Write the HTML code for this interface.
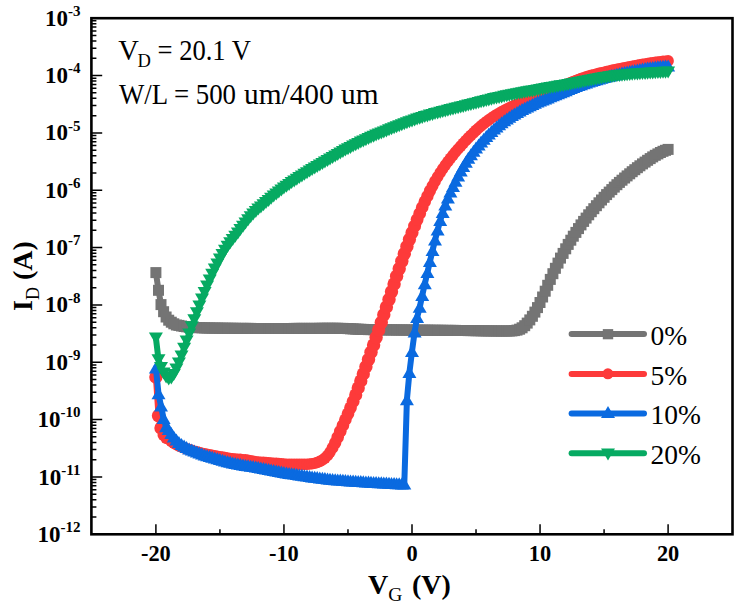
<!DOCTYPE html>
<html><head><meta charset="utf-8"><style>html,body{margin:0;padding:0;background:#fff;width:744px;height:612px;overflow:hidden}svg{display:block}</style></head>
<body><svg width="744" height="612" viewBox="0 0 744 612" font-family="'Liberation Serif', serif">
<rect width="744" height="612" fill="#fff"/>
<g fill="#747474" stroke="none"><polyline points="155.9,272.6 158.5,290.3 161.0,304.6 163.6,311.7 166.1,317.0 168.7,320.2 171.3,322.2 173.8,323.8 176.4,325.0 178.9,325.4 181.5,326.0 184.1,326.5 186.6,326.8 189.2,327.1 191.8,327.3 194.3,327.5 196.9,327.6 199.4,327.7 202.0,327.8 204.6,327.9 207.1,328.0 209.7,328.0 212.2,328.1 214.8,328.1 217.4,328.1 219.9,328.2 222.5,328.2 225.0,328.2 227.6,328.3 230.2,328.3 232.7,328.3 235.3,328.3 237.9,328.4 240.4,328.4 243.0,328.4 245.5,328.4 248.1,328.4 250.7,328.4 253.2,328.5 255.8,328.5 258.3,328.5 260.9,328.5 263.5,328.5 266.0,328.5 268.6,328.5 271.1,328.5 273.7,328.5 276.3,328.5 278.8,328.5 281.4,328.5 283.9,328.5 286.5,328.5 289.1,328.5 291.6,328.5 294.2,328.4 296.8,328.4 299.3,328.4 301.9,328.4 304.4,328.4 307.0,328.4 309.6,328.4 312.1,328.4 314.7,328.4 317.2,328.4 319.8,328.3 322.4,328.3 324.9,328.3 327.5,328.3 330.0,328.3 332.6,328.3 335.2,328.3 337.7,328.3 340.3,328.4 342.9,328.4 345.4,328.5 348.0,328.6 350.5,328.8 353.1,328.9 355.7,329.1 358.2,329.2 360.8,329.3 363.3,329.4 365.9,329.5 368.5,329.6 371.0,329.6 373.6,329.7 376.1,329.7 378.7,329.7 381.3,329.8 383.8,329.8 386.4,329.8 389.0,329.9 391.5,329.9 394.1,329.9 396.6,330.0 399.2,330.0 401.8,330.0 404.3,330.0 406.9,330.1 409.4,330.1 412.0,330.1 414.6,330.1 417.1,330.1 419.7,330.2 422.2,330.2 424.8,330.2 427.4,330.2 429.9,330.2 432.5,330.3 435.0,330.3 437.6,330.3 440.2,330.3 442.7,330.3 445.3,330.4 447.9,330.4 450.4,330.4 453.0,330.4 455.5,330.4 458.1,330.5 460.7,330.5 463.2,330.5 465.8,330.5 468.3,330.6 470.9,330.6 473.5,330.6 476.0,330.7 478.6,330.7 481.1,330.8 483.7,330.8 486.3,330.9 488.8,330.9 491.4,330.9 494.0,331.0 496.5,331.0 499.1,331.0 501.6,331.0 504.2,331.0 506.8,331.0 509.3,331.0 511.9,330.9 514.4,330.6 517.0,330.1 519.6,329.2 522.1,327.8 524.7,325.7 527.2,323.1 529.8,319.9 532.4,316.3 534.9,312.1 537.5,307.6 540.0,302.5 542.6,297.0 545.2,291.2 547.7,285.3 550.3,279.4 552.9,273.7 555.4,268.3 558.0,263.1 560.5,258.1 563.1,253.4 565.7,248.8 568.2,244.4 570.8,240.2 573.3,236.2 575.9,232.4 578.5,228.6 581.0,224.9 583.6,221.4 586.1,218.1 588.7,214.8 591.3,211.7 593.8,208.7 596.4,205.7 599.0,202.8 601.5,200.0 604.1,197.3 606.6,194.6 609.2,192.1 611.8,189.6 614.3,187.1 616.9,184.7 619.4,182.4 622.0,180.2 624.6,178.0 627.1,175.9 629.7,173.8 632.2,171.7 634.8,169.7 637.4,167.7 639.9,165.8 642.5,163.9 645.1,162.1 647.6,160.3 650.2,158.6 652.7,156.9 655.3,155.3 657.9,153.9 660.4,152.5 663.0,151.3 665.5,150.3 668.1,149.4" fill="none" stroke="#747474" stroke-width="6" stroke-linejoin="round" stroke-linecap="round"/><rect x="150.4" y="267.1" width="11" height="11"/><rect x="153.0" y="284.8" width="11" height="11"/><rect x="155.5" y="299.1" width="11" height="11"/><rect x="158.1" y="306.2" width="11" height="11"/><rect x="160.6" y="311.5" width="11" height="11"/><rect x="163.2" y="314.7" width="11" height="11"/><rect x="165.8" y="316.7" width="11" height="11"/><rect x="168.3" y="318.3" width="11" height="11"/><rect x="170.9" y="319.5" width="11" height="11"/><rect x="173.4" y="319.9" width="11" height="11"/><rect x="176.0" y="320.5" width="11" height="11"/><rect x="178.6" y="321.0" width="11" height="11"/><rect x="181.1" y="321.3" width="11" height="11"/><rect x="183.7" y="321.6" width="11" height="11"/><rect x="186.3" y="321.8" width="11" height="11"/><rect x="188.8" y="322.0" width="11" height="11"/><rect x="191.4" y="322.1" width="11" height="11"/><rect x="193.9" y="322.2" width="11" height="11"/><rect x="196.5" y="322.3" width="11" height="11"/><rect x="199.1" y="322.4" width="11" height="11"/><rect x="201.6" y="322.5" width="11" height="11"/><rect x="204.2" y="322.5" width="11" height="11"/><rect x="206.7" y="322.6" width="11" height="11"/><rect x="209.3" y="322.6" width="11" height="11"/><rect x="211.9" y="322.6" width="11" height="11"/><rect x="214.4" y="322.7" width="11" height="11"/><rect x="217.0" y="322.7" width="11" height="11"/><rect x="219.5" y="322.7" width="11" height="11"/><rect x="222.1" y="322.8" width="11" height="11"/><rect x="224.7" y="322.8" width="11" height="11"/><rect x="227.2" y="322.8" width="11" height="11"/><rect x="229.8" y="322.8" width="11" height="11"/><rect x="232.4" y="322.9" width="11" height="11"/><rect x="234.9" y="322.9" width="11" height="11"/><rect x="237.5" y="322.9" width="11" height="11"/><rect x="240.0" y="322.9" width="11" height="11"/><rect x="242.6" y="322.9" width="11" height="11"/><rect x="245.2" y="322.9" width="11" height="11"/><rect x="247.7" y="323.0" width="11" height="11"/><rect x="250.3" y="323.0" width="11" height="11"/><rect x="252.8" y="323.0" width="11" height="11"/><rect x="255.4" y="323.0" width="11" height="11"/><rect x="258.0" y="323.0" width="11" height="11"/><rect x="260.5" y="323.0" width="11" height="11"/><rect x="263.1" y="323.0" width="11" height="11"/><rect x="265.6" y="323.0" width="11" height="11"/><rect x="268.2" y="323.0" width="11" height="11"/><rect x="270.8" y="323.0" width="11" height="11"/><rect x="273.3" y="323.0" width="11" height="11"/><rect x="275.9" y="323.0" width="11" height="11"/><rect x="278.4" y="323.0" width="11" height="11"/><rect x="281.0" y="323.0" width="11" height="11"/><rect x="283.6" y="323.0" width="11" height="11"/><rect x="286.1" y="323.0" width="11" height="11"/><rect x="288.7" y="322.9" width="11" height="11"/><rect x="291.3" y="322.9" width="11" height="11"/><rect x="293.8" y="322.9" width="11" height="11"/><rect x="296.4" y="322.9" width="11" height="11"/><rect x="298.9" y="322.9" width="11" height="11"/><rect x="301.5" y="322.9" width="11" height="11"/><rect x="304.1" y="322.9" width="11" height="11"/><rect x="306.6" y="322.9" width="11" height="11"/><rect x="309.2" y="322.9" width="11" height="11"/><rect x="311.7" y="322.9" width="11" height="11"/><rect x="314.3" y="322.8" width="11" height="11"/><rect x="316.9" y="322.8" width="11" height="11"/><rect x="319.4" y="322.8" width="11" height="11"/><rect x="322.0" y="322.8" width="11" height="11"/><rect x="324.5" y="322.8" width="11" height="11"/><rect x="327.1" y="322.8" width="11" height="11"/><rect x="329.7" y="322.8" width="11" height="11"/><rect x="332.2" y="322.8" width="11" height="11"/><rect x="334.8" y="322.9" width="11" height="11"/><rect x="337.4" y="322.9" width="11" height="11"/><rect x="339.9" y="323.0" width="11" height="11"/><rect x="342.5" y="323.1" width="11" height="11"/><rect x="345.0" y="323.3" width="11" height="11"/><rect x="347.6" y="323.4" width="11" height="11"/><rect x="350.2" y="323.6" width="11" height="11"/><rect x="352.7" y="323.7" width="11" height="11"/><rect x="355.3" y="323.8" width="11" height="11"/><rect x="357.8" y="323.9" width="11" height="11"/><rect x="360.4" y="324.0" width="11" height="11"/><rect x="363.0" y="324.1" width="11" height="11"/><rect x="365.5" y="324.1" width="11" height="11"/><rect x="368.1" y="324.2" width="11" height="11"/><rect x="370.6" y="324.2" width="11" height="11"/><rect x="373.2" y="324.2" width="11" height="11"/><rect x="375.8" y="324.3" width="11" height="11"/><rect x="378.3" y="324.3" width="11" height="11"/><rect x="380.9" y="324.3" width="11" height="11"/><rect x="383.5" y="324.4" width="11" height="11"/><rect x="386.0" y="324.4" width="11" height="11"/><rect x="388.6" y="324.4" width="11" height="11"/><rect x="391.1" y="324.5" width="11" height="11"/><rect x="393.7" y="324.5" width="11" height="11"/><rect x="396.3" y="324.5" width="11" height="11"/><rect x="398.8" y="324.5" width="11" height="11"/><rect x="401.4" y="324.6" width="11" height="11"/><rect x="403.9" y="324.6" width="11" height="11"/><rect x="406.5" y="324.6" width="11" height="11"/><rect x="409.1" y="324.6" width="11" height="11"/><rect x="411.6" y="324.6" width="11" height="11"/><rect x="414.2" y="324.7" width="11" height="11"/><rect x="416.7" y="324.7" width="11" height="11"/><rect x="419.3" y="324.7" width="11" height="11"/><rect x="421.9" y="324.7" width="11" height="11"/><rect x="424.4" y="324.7" width="11" height="11"/><rect x="427.0" y="324.8" width="11" height="11"/><rect x="429.5" y="324.8" width="11" height="11"/><rect x="432.1" y="324.8" width="11" height="11"/><rect x="434.7" y="324.8" width="11" height="11"/><rect x="437.2" y="324.8" width="11" height="11"/><rect x="439.8" y="324.9" width="11" height="11"/><rect x="442.4" y="324.9" width="11" height="11"/><rect x="444.9" y="324.9" width="11" height="11"/><rect x="447.5" y="324.9" width="11" height="11"/><rect x="450.0" y="324.9" width="11" height="11"/><rect x="452.6" y="325.0" width="11" height="11"/><rect x="455.2" y="325.0" width="11" height="11"/><rect x="457.7" y="325.0" width="11" height="11"/><rect x="460.3" y="325.0" width="11" height="11"/><rect x="462.8" y="325.1" width="11" height="11"/><rect x="465.4" y="325.1" width="11" height="11"/><rect x="468.0" y="325.1" width="11" height="11"/><rect x="470.5" y="325.2" width="11" height="11"/><rect x="473.1" y="325.2" width="11" height="11"/><rect x="475.6" y="325.3" width="11" height="11"/><rect x="478.2" y="325.3" width="11" height="11"/><rect x="480.8" y="325.4" width="11" height="11"/><rect x="483.3" y="325.4" width="11" height="11"/><rect x="485.9" y="325.4" width="11" height="11"/><rect x="488.5" y="325.5" width="11" height="11"/><rect x="491.0" y="325.5" width="11" height="11"/><rect x="493.6" y="325.5" width="11" height="11"/><rect x="496.1" y="325.5" width="11" height="11"/><rect x="498.7" y="325.5" width="11" height="11"/><rect x="501.3" y="325.5" width="11" height="11"/><rect x="503.8" y="325.5" width="11" height="11"/><rect x="506.4" y="325.4" width="11" height="11"/><rect x="508.9" y="325.1" width="11" height="11"/><rect x="511.5" y="324.6" width="11" height="11"/><rect x="514.1" y="323.7" width="11" height="11"/><rect x="516.6" y="322.3" width="11" height="11"/><rect x="519.2" y="320.2" width="11" height="11"/><rect x="521.7" y="317.6" width="11" height="11"/><rect x="524.3" y="314.4" width="11" height="11"/><rect x="526.9" y="310.8" width="11" height="11"/><rect x="529.4" y="306.6" width="11" height="11"/><rect x="532.0" y="302.1" width="11" height="11"/><rect x="534.5" y="297.0" width="11" height="11"/><rect x="537.1" y="291.5" width="11" height="11"/><rect x="539.7" y="285.7" width="11" height="11"/><rect x="542.2" y="279.8" width="11" height="11"/><rect x="544.8" y="273.9" width="11" height="11"/><rect x="547.4" y="268.2" width="11" height="11"/><rect x="549.9" y="262.8" width="11" height="11"/><rect x="552.5" y="257.6" width="11" height="11"/><rect x="555.0" y="252.6" width="11" height="11"/><rect x="557.6" y="247.9" width="11" height="11"/><rect x="560.2" y="243.3" width="11" height="11"/><rect x="562.7" y="238.9" width="11" height="11"/><rect x="565.3" y="234.7" width="11" height="11"/><rect x="567.8" y="230.7" width="11" height="11"/><rect x="570.4" y="226.9" width="11" height="11"/><rect x="573.0" y="223.1" width="11" height="11"/><rect x="575.5" y="219.4" width="11" height="11"/><rect x="578.1" y="215.9" width="11" height="11"/><rect x="580.6" y="212.6" width="11" height="11"/><rect x="583.2" y="209.3" width="11" height="11"/><rect x="585.8" y="206.2" width="11" height="11"/><rect x="588.3" y="203.2" width="11" height="11"/><rect x="590.9" y="200.2" width="11" height="11"/><rect x="593.5" y="197.3" width="11" height="11"/><rect x="596.0" y="194.5" width="11" height="11"/><rect x="598.6" y="191.8" width="11" height="11"/><rect x="601.1" y="189.1" width="11" height="11"/><rect x="603.7" y="186.6" width="11" height="11"/><rect x="606.3" y="184.1" width="11" height="11"/><rect x="608.8" y="181.6" width="11" height="11"/><rect x="611.4" y="179.2" width="11" height="11"/><rect x="613.9" y="176.9" width="11" height="11"/><rect x="616.5" y="174.7" width="11" height="11"/><rect x="619.1" y="172.5" width="11" height="11"/><rect x="621.6" y="170.4" width="11" height="11"/><rect x="624.2" y="168.3" width="11" height="11"/><rect x="626.7" y="166.2" width="11" height="11"/><rect x="629.3" y="164.2" width="11" height="11"/><rect x="631.9" y="162.2" width="11" height="11"/><rect x="634.4" y="160.3" width="11" height="11"/><rect x="637.0" y="158.4" width="11" height="11"/><rect x="639.6" y="156.6" width="11" height="11"/><rect x="642.1" y="154.8" width="11" height="11"/><rect x="644.7" y="153.1" width="11" height="11"/><rect x="647.2" y="151.4" width="11" height="11"/><rect x="649.8" y="149.8" width="11" height="11"/><rect x="652.4" y="148.4" width="11" height="11"/><rect x="654.9" y="147.0" width="11" height="11"/><rect x="657.5" y="145.8" width="11" height="11"/><rect x="660.0" y="144.8" width="11" height="11"/><rect x="662.6" y="143.9" width="11" height="11"/></g><g fill="#fd3a3a" stroke="none"><polyline points="155.9,377.0 158.5,415.7 161.0,428.1 163.6,434.9 166.1,438.1 168.7,439.1 171.3,441.3 173.8,443.2 176.4,444.7 178.9,445.9 181.5,446.9 184.1,447.9 186.6,448.8 189.2,449.6 191.8,450.4 194.3,451.2 196.9,451.9 199.4,452.6 202.0,453.2 204.6,453.9 207.1,454.4 209.7,454.9 212.2,455.4 214.8,455.8 217.4,456.2 219.9,456.7 222.5,457.1 225.0,457.6 227.6,458.0 230.2,458.5 232.7,458.8 235.3,459.1 237.9,459.3 240.4,459.4 243.0,459.7 245.5,459.9 248.1,460.3 250.7,460.8 253.2,461.3 255.8,461.7 258.3,462.0 260.9,462.2 263.5,462.4 266.0,462.6 268.6,462.8 271.1,463.0 273.7,463.2 276.3,463.4 278.8,463.6 281.4,463.8 283.9,464.0 286.5,464.2 289.1,464.3 291.6,464.4 294.2,464.4 296.8,464.4 299.3,464.4 301.9,464.4 304.4,464.3 307.0,464.2 309.6,464.0 312.1,463.7 314.7,463.2 317.2,462.5 319.8,461.4 322.4,460.0 324.9,458.1 327.5,455.5 330.0,452.1 332.6,447.8 335.2,442.8 337.7,437.2 340.3,431.3 342.9,425.4 345.4,419.6 348.0,413.7 350.5,407.7 353.1,401.5 355.7,394.9 358.2,387.9 360.8,380.9 363.3,373.9 365.9,366.8 368.5,359.6 371.0,352.3 373.6,344.9 376.1,337.5 378.7,330.0 381.3,322.4 383.8,314.8 386.4,307.1 389.0,299.4 391.5,291.7 394.1,284.0 396.6,276.3 399.2,268.7 401.8,261.2 404.3,253.8 406.9,246.6 409.4,239.5 412.0,232.7 414.6,226.0 417.1,219.6 419.7,213.4 422.2,207.4 424.8,201.6 427.4,196.2 429.9,190.9 432.5,186.0 435.0,181.3 437.6,176.9 440.2,172.7 442.7,168.8 445.3,165.1 447.9,161.6 450.4,158.3 453.0,155.1 455.5,152.0 458.1,149.0 460.7,146.1 463.2,143.3 465.8,140.5 468.3,137.9 470.9,135.3 473.5,132.8 476.0,130.4 478.6,128.0 481.1,125.8 483.7,123.7 486.3,121.7 488.8,119.8 491.4,118.0 494.0,116.3 496.5,114.7 499.1,113.2 501.6,111.7 504.2,110.4 506.8,109.0 509.3,107.8 511.9,106.5 514.4,105.4 517.0,104.2 519.6,103.1 522.1,102.0 524.7,101.0 527.2,100.0 529.8,98.9 532.4,97.9 534.9,96.9 537.5,95.9 540.0,94.9 542.6,93.9 545.2,93.0 547.7,92.0 550.3,90.9 552.9,89.9 555.4,88.9 558.0,87.9 560.5,86.8 563.1,85.7 565.7,84.7 568.2,83.6 570.8,82.6 573.3,81.5 575.9,80.5 578.5,79.5 581.0,78.6 583.6,77.7 586.1,76.9 588.7,76.1 591.3,75.4 593.8,74.7 596.4,74.0 599.0,73.4 601.5,72.8 604.1,72.2 606.6,71.6 609.2,71.0 611.8,70.4 614.3,69.9 616.9,69.3 619.4,68.8 622.0,68.3 624.6,67.7 627.1,67.2 629.7,66.7 632.2,66.2 634.8,65.8 637.4,65.3 639.9,64.8 642.5,64.4 645.1,64.0 647.6,63.5 650.2,63.1 652.7,62.7 655.3,62.4 657.9,62.0 660.4,61.7 663.0,61.4 665.5,61.2 668.1,60.9" fill="none" stroke="#fd3a3a" stroke-width="6" stroke-linejoin="round" stroke-linecap="round"/><circle cx="155.9" cy="377.0" r="6.70"/><circle cx="158.5" cy="415.7" r="6.70"/><circle cx="161.0" cy="428.1" r="6.70"/><circle cx="163.6" cy="434.9" r="6.07"/><circle cx="166.1" cy="438.1" r="5.80"/><circle cx="168.7" cy="439.1" r="5.80"/><circle cx="171.3" cy="441.3" r="5.80"/><circle cx="173.8" cy="443.2" r="5.80"/><circle cx="176.4" cy="444.7" r="5.80"/><circle cx="178.9" cy="445.9" r="5.80"/><circle cx="181.5" cy="446.9" r="5.80"/><circle cx="184.1" cy="447.9" r="5.80"/><circle cx="186.6" cy="448.8" r="5.80"/><circle cx="189.2" cy="449.6" r="5.80"/><circle cx="191.8" cy="450.4" r="5.80"/><circle cx="194.3" cy="451.2" r="5.80"/><circle cx="196.9" cy="451.9" r="5.80"/><circle cx="199.4" cy="452.6" r="5.80"/><circle cx="202.0" cy="453.2" r="5.80"/><circle cx="204.6" cy="453.9" r="5.80"/><circle cx="207.1" cy="454.4" r="5.80"/><circle cx="209.7" cy="454.9" r="5.80"/><circle cx="212.2" cy="455.4" r="5.80"/><circle cx="214.8" cy="455.8" r="5.80"/><circle cx="217.4" cy="456.2" r="5.80"/><circle cx="219.9" cy="456.7" r="5.80"/><circle cx="222.5" cy="457.1" r="5.80"/><circle cx="225.0" cy="457.6" r="5.80"/><circle cx="227.6" cy="458.0" r="5.80"/><circle cx="230.2" cy="458.5" r="5.80"/><circle cx="232.7" cy="458.8" r="5.80"/><circle cx="235.3" cy="459.1" r="5.80"/><circle cx="237.9" cy="459.3" r="5.80"/><circle cx="240.4" cy="459.4" r="5.80"/><circle cx="243.0" cy="459.7" r="5.80"/><circle cx="245.5" cy="459.9" r="5.80"/><circle cx="248.1" cy="460.3" r="5.80"/><circle cx="250.7" cy="460.8" r="5.80"/><circle cx="253.2" cy="461.3" r="5.80"/><circle cx="255.8" cy="461.7" r="5.80"/><circle cx="258.3" cy="462.0" r="5.80"/><circle cx="260.9" cy="462.2" r="5.80"/><circle cx="263.5" cy="462.4" r="5.80"/><circle cx="266.0" cy="462.6" r="5.80"/><circle cx="268.6" cy="462.8" r="5.80"/><circle cx="271.1" cy="463.0" r="5.80"/><circle cx="273.7" cy="463.2" r="5.80"/><circle cx="276.3" cy="463.4" r="5.80"/><circle cx="278.8" cy="463.6" r="5.80"/><circle cx="281.4" cy="463.8" r="5.80"/><circle cx="283.9" cy="464.0" r="5.80"/><circle cx="286.5" cy="464.2" r="5.80"/><circle cx="289.1" cy="464.3" r="5.80"/><circle cx="291.6" cy="464.4" r="5.80"/><circle cx="294.2" cy="464.4" r="5.80"/><circle cx="296.8" cy="464.4" r="5.80"/><circle cx="299.3" cy="464.4" r="5.80"/><circle cx="301.9" cy="464.4" r="5.80"/><circle cx="304.4" cy="464.3" r="5.80"/><circle cx="307.0" cy="464.2" r="5.80"/><circle cx="309.6" cy="464.0" r="5.80"/><circle cx="312.1" cy="463.7" r="5.80"/><circle cx="314.7" cy="463.2" r="5.80"/><circle cx="317.2" cy="462.5" r="5.80"/><circle cx="319.8" cy="461.4" r="5.80"/><circle cx="322.4" cy="460.0" r="5.80"/><circle cx="324.9" cy="458.1" r="5.80"/><circle cx="327.5" cy="455.5" r="5.80"/><circle cx="330.0" cy="452.1" r="5.80"/><circle cx="332.6" cy="447.8" r="5.97"/><circle cx="335.2" cy="442.8" r="6.16"/><circle cx="337.7" cy="437.2" r="6.27"/><circle cx="340.3" cy="431.3" r="6.32"/><circle cx="342.9" cy="425.4" r="6.32"/><circle cx="345.4" cy="419.6" r="6.32"/><circle cx="348.0" cy="413.7" r="6.34"/><circle cx="350.5" cy="407.7" r="6.38"/><circle cx="353.1" cy="401.5" r="6.48"/><circle cx="355.7" cy="394.9" r="6.59"/><circle cx="358.2" cy="387.9" r="6.66"/><circle cx="360.8" cy="380.9" r="6.65"/><circle cx="363.3" cy="373.9" r="6.66"/><circle cx="365.9" cy="366.8" r="6.69"/><circle cx="368.5" cy="359.6" r="6.70"/><circle cx="371.0" cy="352.3" r="6.70"/><circle cx="373.6" cy="344.9" r="6.70"/><circle cx="376.1" cy="337.5" r="6.70"/><circle cx="378.7" cy="330.0" r="6.70"/><circle cx="381.3" cy="322.4" r="6.70"/><circle cx="383.8" cy="314.8" r="6.70"/><circle cx="386.4" cy="307.1" r="6.70"/><circle cx="389.0" cy="299.4" r="6.70"/><circle cx="391.5" cy="291.7" r="6.70"/><circle cx="394.1" cy="284.0" r="6.70"/><circle cx="396.6" cy="276.3" r="6.70"/><circle cx="399.2" cy="268.7" r="6.70"/><circle cx="401.8" cy="261.2" r="6.70"/><circle cx="404.3" cy="253.8" r="6.70"/><circle cx="406.9" cy="246.6" r="6.69"/><circle cx="409.4" cy="239.5" r="6.63"/><circle cx="412.0" cy="232.7" r="6.58"/><circle cx="414.6" cy="226.0" r="6.52"/><circle cx="417.1" cy="219.6" r="6.45"/><circle cx="419.7" cy="213.4" r="6.39"/><circle cx="422.2" cy="207.4" r="6.32"/><circle cx="424.8" cy="201.6" r="6.24"/><circle cx="427.4" cy="196.2" r="6.17"/><circle cx="429.9" cy="190.9" r="6.09"/><circle cx="432.5" cy="186.0" r="6.01"/><circle cx="435.0" cy="181.3" r="5.93"/><circle cx="437.6" cy="176.9" r="5.86"/><circle cx="440.2" cy="172.7" r="5.80"/><circle cx="442.7" cy="168.8" r="5.80"/><circle cx="445.3" cy="165.1" r="5.80"/><circle cx="447.9" cy="161.6" r="5.80"/><circle cx="450.4" cy="158.3" r="5.80"/><circle cx="453.0" cy="155.1" r="5.80"/><circle cx="455.5" cy="152.0" r="5.80"/><circle cx="458.1" cy="149.0" r="5.80"/><circle cx="460.7" cy="146.1" r="5.80"/><circle cx="463.2" cy="143.3" r="5.80"/><circle cx="465.8" cy="140.5" r="5.80"/><circle cx="468.3" cy="137.9" r="5.80"/><circle cx="470.9" cy="135.3" r="5.80"/><circle cx="473.5" cy="132.8" r="5.80"/><circle cx="476.0" cy="130.4" r="5.80"/><circle cx="478.6" cy="128.0" r="5.80"/><circle cx="481.1" cy="125.8" r="5.80"/><circle cx="483.7" cy="123.7" r="5.80"/><circle cx="486.3" cy="121.7" r="5.80"/><circle cx="488.8" cy="119.8" r="5.80"/><circle cx="491.4" cy="118.0" r="5.80"/><circle cx="494.0" cy="116.3" r="5.80"/><circle cx="496.5" cy="114.7" r="5.80"/><circle cx="499.1" cy="113.2" r="5.80"/><circle cx="501.6" cy="111.7" r="5.80"/><circle cx="504.2" cy="110.4" r="5.80"/><circle cx="506.8" cy="109.0" r="5.80"/><circle cx="509.3" cy="107.8" r="5.80"/><circle cx="511.9" cy="106.5" r="5.80"/><circle cx="514.4" cy="105.4" r="5.80"/><circle cx="517.0" cy="104.2" r="5.80"/><circle cx="519.6" cy="103.1" r="5.80"/><circle cx="522.1" cy="102.0" r="5.80"/><circle cx="524.7" cy="101.0" r="5.80"/><circle cx="527.2" cy="100.0" r="5.80"/><circle cx="529.8" cy="98.9" r="5.80"/><circle cx="532.4" cy="97.9" r="5.80"/><circle cx="534.9" cy="96.9" r="5.80"/><circle cx="537.5" cy="95.9" r="5.80"/><circle cx="540.0" cy="94.9" r="5.80"/><circle cx="542.6" cy="93.9" r="5.80"/><circle cx="545.2" cy="93.0" r="5.80"/><circle cx="547.7" cy="92.0" r="5.80"/><circle cx="550.3" cy="90.9" r="5.80"/><circle cx="552.9" cy="89.9" r="5.80"/><circle cx="555.4" cy="88.9" r="5.80"/><circle cx="558.0" cy="87.9" r="5.80"/><circle cx="560.5" cy="86.8" r="5.80"/><circle cx="563.1" cy="85.7" r="5.80"/><circle cx="565.7" cy="84.7" r="5.80"/><circle cx="568.2" cy="83.6" r="5.80"/><circle cx="570.8" cy="82.6" r="5.80"/><circle cx="573.3" cy="81.5" r="5.80"/><circle cx="575.9" cy="80.5" r="5.80"/><circle cx="578.5" cy="79.5" r="5.80"/><circle cx="581.0" cy="78.6" r="5.80"/><circle cx="583.6" cy="77.7" r="5.80"/><circle cx="586.1" cy="76.9" r="5.80"/><circle cx="588.7" cy="76.1" r="5.80"/><circle cx="591.3" cy="75.4" r="5.80"/><circle cx="593.8" cy="74.7" r="5.80"/><circle cx="596.4" cy="74.0" r="5.80"/><circle cx="599.0" cy="73.4" r="5.80"/><circle cx="601.5" cy="72.8" r="5.80"/><circle cx="604.1" cy="72.2" r="5.80"/><circle cx="606.6" cy="71.6" r="5.80"/><circle cx="609.2" cy="71.0" r="5.80"/><circle cx="611.8" cy="70.4" r="5.80"/><circle cx="614.3" cy="69.9" r="5.80"/><circle cx="616.9" cy="69.3" r="5.80"/><circle cx="619.4" cy="68.8" r="5.80"/><circle cx="622.0" cy="68.3" r="5.80"/><circle cx="624.6" cy="67.7" r="5.80"/><circle cx="627.1" cy="67.2" r="5.80"/><circle cx="629.7" cy="66.7" r="5.80"/><circle cx="632.2" cy="66.2" r="5.80"/><circle cx="634.8" cy="65.8" r="5.80"/><circle cx="637.4" cy="65.3" r="5.80"/><circle cx="639.9" cy="64.8" r="5.80"/><circle cx="642.5" cy="64.4" r="5.80"/><circle cx="645.1" cy="64.0" r="5.80"/><circle cx="647.6" cy="63.5" r="5.80"/><circle cx="650.2" cy="63.1" r="5.80"/><circle cx="652.7" cy="62.7" r="5.80"/><circle cx="655.3" cy="62.4" r="5.80"/><circle cx="657.9" cy="62.0" r="5.80"/><circle cx="660.4" cy="61.7" r="5.80"/><circle cx="663.0" cy="61.4" r="5.80"/><circle cx="665.5" cy="61.2" r="5.80"/><circle cx="668.1" cy="60.9" r="5.80"/></g><g fill="#0a6ae0" stroke="none"><polyline points="155.9,368.1 158.5,393.9 161.0,406.2 163.6,418.7 166.1,426.9 168.7,429.5 171.3,433.6 173.8,437.2 176.4,440.1 178.9,442.5 181.5,444.5 184.1,446.2 186.6,447.7 189.2,449.1 191.8,450.2 194.3,451.2 196.9,452.2 199.4,453.2 202.0,454.1 204.6,455.0 207.1,455.8 209.7,456.7 212.2,457.4 214.8,458.2 217.4,458.9 219.9,459.6 222.5,460.4 225.0,461.1 227.6,461.8 230.2,462.4 232.7,463.1 235.3,463.6 237.9,464.2 240.4,464.6 243.0,465.1 245.5,465.5 248.1,465.9 250.7,466.3 253.2,466.7 255.8,467.1 258.3,467.6 260.9,468.1 263.5,468.6 266.0,469.1 268.6,469.6 271.1,470.2 273.7,470.7 276.3,471.2 278.8,471.7 281.4,472.2 283.9,472.6 286.5,473.1 289.1,473.5 291.6,473.9 294.2,474.2 296.8,474.6 299.3,475.0 301.9,475.4 304.4,475.8 307.0,476.2 309.6,476.6 312.1,477.0 314.7,477.3 317.2,477.7 319.8,478.0 322.4,478.4 324.9,478.7 327.5,479.0 330.0,479.3 332.6,479.5 335.2,479.8 337.7,480.0 340.3,480.2 342.9,480.4 345.4,480.6 348.0,480.8 350.5,481.0 353.1,481.2 355.7,481.3 358.2,481.5 360.8,481.7 363.3,481.9 365.9,482.0 368.5,482.2 371.0,482.3 373.6,482.5 376.1,482.6 378.7,482.8 381.3,482.9 383.8,483.1 386.4,483.2 389.0,483.4 391.5,483.5 394.1,483.6 396.6,483.8 399.2,483.9 401.8,484.0 404.3,484.1 406.9,399.8 409.4,372.7 412.0,351.5 414.6,332.1 417.1,317.6 419.7,307.4 422.2,295.6 424.8,283.9 427.4,272.6 429.9,261.5 432.5,250.7 435.0,240.2 437.6,230.2 440.2,220.7 442.7,212.5 445.3,205.0 447.9,198.2 450.4,192.2 453.0,186.7 455.5,181.4 458.1,176.0 460.7,171.1 463.2,166.5 465.8,162.3 468.3,158.4 470.9,154.8 473.5,151.4 476.0,148.1 478.6,145.1 481.1,142.1 483.7,139.3 486.3,136.6 488.8,134.0 491.4,131.6 494.0,129.2 496.5,127.0 499.1,124.8 501.6,122.8 504.2,120.9 506.8,119.0 509.3,117.3 511.9,115.6 514.4,114.1 517.0,112.5 519.6,111.1 522.1,109.7 524.7,108.3 527.2,107.0 529.8,105.8 532.4,104.5 534.9,103.4 537.5,102.2 540.0,101.1 542.6,100.1 545.2,99.0 547.7,98.0 550.3,96.9 552.9,95.9 555.4,94.9 558.0,93.9 560.5,92.8 563.1,91.8 565.7,90.8 568.2,89.7 570.8,88.7 573.3,87.7 575.9,86.7 578.5,85.7 581.0,84.8 583.6,83.9 586.1,83.0 588.7,82.1 591.3,81.3 593.8,80.5 596.4,79.8 599.0,79.0 601.5,78.3 604.1,77.6 606.6,76.9 609.2,76.3 611.8,75.6 614.3,75.0 616.9,74.4 619.4,73.8 622.0,73.2 624.6,72.6 627.1,72.0 629.7,71.5 632.2,71.0 634.8,70.5 637.4,70.0 639.9,69.5 642.5,69.0 645.1,68.6 647.6,68.2 650.2,67.8 652.7,67.5 655.3,67.1 657.9,66.8 660.4,66.6 663.0,66.3 665.5,66.2 668.1,66.0" fill="none" stroke="#0a6ae0" stroke-width="6" stroke-linejoin="round" stroke-linecap="round"/><path d="M155.9,361.5L162.9,373.5L148.9,373.5Z"/><path d="M158.5,387.3L165.5,399.3L151.5,399.3Z"/><path d="M161.0,399.6L168.0,411.6L154.0,411.6Z"/><path d="M163.6,412.1L170.6,424.1L156.6,424.1Z"/><path d="M166.1,420.3L173.1,432.3L159.1,432.3Z"/><path d="M168.7,422.9L175.7,434.9L161.7,434.9Z"/><path d="M171.3,427.0L178.3,439.0L164.3,439.0Z"/><path d="M173.8,430.6L180.8,442.6L166.8,442.6Z"/><path d="M176.4,433.5L183.4,445.5L169.4,445.5Z"/><path d="M178.9,435.9L185.9,447.9L171.9,447.9Z"/><path d="M181.5,437.9L188.5,449.9L174.5,449.9Z"/><path d="M184.1,439.6L191.1,451.6L177.1,451.6Z"/><path d="M186.6,441.1L193.6,453.1L179.6,453.1Z"/><path d="M189.2,442.5L196.2,454.5L182.2,454.5Z"/><path d="M191.8,443.6L198.8,455.6L184.8,455.6Z"/><path d="M194.3,444.6L201.3,456.6L187.3,456.6Z"/><path d="M196.9,445.6L203.9,457.6L189.9,457.6Z"/><path d="M199.4,446.6L206.4,458.6L192.4,458.6Z"/><path d="M202.0,447.5L209.0,459.5L195.0,459.5Z"/><path d="M204.6,448.4L211.6,460.4L197.6,460.4Z"/><path d="M207.1,449.2L214.1,461.2L200.1,461.2Z"/><path d="M209.7,450.1L216.7,462.1L202.7,462.1Z"/><path d="M212.2,450.8L219.2,462.8L205.2,462.8Z"/><path d="M214.8,451.6L221.8,463.6L207.8,463.6Z"/><path d="M217.4,452.3L224.4,464.3L210.4,464.3Z"/><path d="M219.9,453.0L226.9,465.0L212.9,465.0Z"/><path d="M222.5,453.8L229.5,465.8L215.5,465.8Z"/><path d="M225.0,454.5L232.0,466.5L218.0,466.5Z"/><path d="M227.6,455.2L234.6,467.2L220.6,467.2Z"/><path d="M230.2,455.8L237.2,467.8L223.2,467.8Z"/><path d="M232.7,456.5L239.7,468.5L225.7,468.5Z"/><path d="M235.3,457.0L242.3,469.0L228.3,469.0Z"/><path d="M237.9,457.6L244.9,469.6L230.9,469.6Z"/><path d="M240.4,458.0L247.4,470.0L233.4,470.0Z"/><path d="M243.0,458.5L250.0,470.5L236.0,470.5Z"/><path d="M245.5,458.9L252.5,470.9L238.5,470.9Z"/><path d="M248.1,459.3L255.1,471.3L241.1,471.3Z"/><path d="M250.7,459.7L257.7,471.7L243.7,471.7Z"/><path d="M253.2,460.1L260.2,472.1L246.2,472.1Z"/><path d="M255.8,460.5L262.8,472.5L248.8,472.5Z"/><path d="M258.3,461.0L265.3,473.0L251.3,473.0Z"/><path d="M260.9,461.5L267.9,473.5L253.9,473.5Z"/><path d="M263.5,462.0L270.5,474.0L256.5,474.0Z"/><path d="M266.0,462.5L273.0,474.5L259.0,474.5Z"/><path d="M268.6,463.0L275.6,475.0L261.6,475.0Z"/><path d="M271.1,463.6L278.1,475.6L264.1,475.6Z"/><path d="M273.7,464.1L280.7,476.1L266.7,476.1Z"/><path d="M276.3,464.6L283.3,476.6L269.3,476.6Z"/><path d="M278.8,465.1L285.8,477.1L271.8,477.1Z"/><path d="M281.4,465.6L288.4,477.6L274.4,477.6Z"/><path d="M283.9,466.0L290.9,478.0L276.9,478.0Z"/><path d="M286.5,466.5L293.5,478.5L279.5,478.5Z"/><path d="M289.1,466.9L296.1,478.9L282.1,478.9Z"/><path d="M291.6,467.3L298.6,479.3L284.6,479.3Z"/><path d="M294.2,467.6L301.2,479.6L287.2,479.6Z"/><path d="M296.8,468.0L303.8,480.0L289.8,480.0Z"/><path d="M299.3,468.4L306.3,480.4L292.3,480.4Z"/><path d="M301.9,468.8L308.9,480.8L294.9,480.8Z"/><path d="M304.4,469.2L311.4,481.2L297.4,481.2Z"/><path d="M307.0,469.6L314.0,481.6L300.0,481.6Z"/><path d="M309.6,470.0L316.6,482.0L302.6,482.0Z"/><path d="M312.1,470.4L319.1,482.4L305.1,482.4Z"/><path d="M314.7,470.7L321.7,482.7L307.7,482.7Z"/><path d="M317.2,471.1L324.2,483.1L310.2,483.1Z"/><path d="M319.8,471.4L326.8,483.4L312.8,483.4Z"/><path d="M322.4,471.8L329.4,483.8L315.4,483.8Z"/><path d="M324.9,472.1L331.9,484.1L317.9,484.1Z"/><path d="M327.5,472.4L334.5,484.4L320.5,484.4Z"/><path d="M330.0,472.7L337.0,484.7L323.0,484.7Z"/><path d="M332.6,472.9L339.6,484.9L325.6,484.9Z"/><path d="M335.2,473.2L342.2,485.2L328.2,485.2Z"/><path d="M337.7,473.4L344.7,485.4L330.7,485.4Z"/><path d="M340.3,473.6L347.3,485.6L333.3,485.6Z"/><path d="M342.9,473.8L349.9,485.8L335.9,485.8Z"/><path d="M345.4,474.0L352.4,486.0L338.4,486.0Z"/><path d="M348.0,474.2L355.0,486.2L341.0,486.2Z"/><path d="M350.5,474.4L357.5,486.4L343.5,486.4Z"/><path d="M353.1,474.6L360.1,486.6L346.1,486.6Z"/><path d="M355.7,474.7L362.7,486.7L348.7,486.7Z"/><path d="M358.2,474.9L365.2,486.9L351.2,486.9Z"/><path d="M360.8,475.1L367.8,487.1L353.8,487.1Z"/><path d="M363.3,475.3L370.3,487.3L356.3,487.3Z"/><path d="M365.9,475.4L372.9,487.4L358.9,487.4Z"/><path d="M368.5,475.6L375.5,487.6L361.5,487.6Z"/><path d="M371.0,475.7L378.0,487.7L364.0,487.7Z"/><path d="M373.6,475.9L380.6,487.9L366.6,487.9Z"/><path d="M376.1,476.0L383.1,488.0L369.1,488.0Z"/><path d="M378.7,476.2L385.7,488.2L371.7,488.2Z"/><path d="M381.3,476.3L388.3,488.3L374.3,488.3Z"/><path d="M383.8,476.5L390.8,488.5L376.8,488.5Z"/><path d="M386.4,476.6L393.4,488.6L379.4,488.6Z"/><path d="M389.0,476.8L396.0,488.8L382.0,488.8Z"/><path d="M391.5,476.9L398.5,488.9L384.5,488.9Z"/><path d="M394.1,477.0L401.1,489.0L387.1,489.0Z"/><path d="M396.6,477.2L403.6,489.2L389.6,489.2Z"/><path d="M399.2,477.3L406.2,489.3L392.2,489.3Z"/><path d="M401.8,477.4L408.8,489.4L394.8,489.4Z"/><path d="M404.3,477.5L411.3,489.5L397.3,489.5Z"/><path d="M406.9,393.2L413.9,405.2L399.9,405.2Z"/><path d="M409.4,366.1L416.4,378.1L402.4,378.1Z"/><path d="M412.0,344.9L419.0,356.9L405.0,356.9Z"/><path d="M414.6,325.5L421.6,337.5L407.6,337.5Z"/><path d="M417.1,311.0L424.1,323.0L410.1,323.0Z"/><path d="M419.7,300.8L426.7,312.8L412.7,312.8Z"/><path d="M422.2,289.0L429.2,301.0L415.2,301.0Z"/><path d="M424.8,277.3L431.8,289.3L417.8,289.3Z"/><path d="M427.4,266.0L434.4,278.0L420.4,278.0Z"/><path d="M429.9,254.9L436.9,266.9L422.9,266.9Z"/><path d="M432.5,244.1L439.5,256.1L425.5,256.1Z"/><path d="M435.0,233.6L442.0,245.6L428.0,245.6Z"/><path d="M437.6,223.6L444.6,235.6L430.6,235.6Z"/><path d="M440.2,214.1L447.2,226.1L433.2,226.1Z"/><path d="M442.7,205.9L449.7,217.9L435.7,217.9Z"/><path d="M445.3,198.4L452.3,210.4L438.3,210.4Z"/><path d="M447.9,191.6L454.9,203.6L440.9,203.6Z"/><path d="M450.4,185.6L457.4,197.6L443.4,197.6Z"/><path d="M453.0,180.1L460.0,192.1L446.0,192.1Z"/><path d="M455.5,174.8L462.5,186.8L448.5,186.8Z"/><path d="M458.1,169.4L465.1,181.4L451.1,181.4Z"/><path d="M460.7,164.5L467.7,176.5L453.7,176.5Z"/><path d="M463.2,159.9L470.2,171.9L456.2,171.9Z"/><path d="M465.8,155.7L472.8,167.7L458.8,167.7Z"/><path d="M468.3,151.8L475.3,163.8L461.3,163.8Z"/><path d="M470.9,148.2L477.9,160.2L463.9,160.2Z"/><path d="M473.5,144.8L480.5,156.8L466.5,156.8Z"/><path d="M476.0,141.5L483.0,153.5L469.0,153.5Z"/><path d="M478.6,138.5L485.6,150.5L471.6,150.5Z"/><path d="M481.1,135.5L488.1,147.5L474.1,147.5Z"/><path d="M483.7,132.7L490.7,144.7L476.7,144.7Z"/><path d="M486.3,130.0L493.3,142.0L479.3,142.0Z"/><path d="M488.8,127.4L495.8,139.4L481.8,139.4Z"/><path d="M491.4,125.0L498.4,137.0L484.4,137.0Z"/><path d="M494.0,122.6L501.0,134.6L487.0,134.6Z"/><path d="M496.5,120.4L503.5,132.4L489.5,132.4Z"/><path d="M499.1,118.2L506.1,130.2L492.1,130.2Z"/><path d="M501.6,116.2L508.6,128.2L494.6,128.2Z"/><path d="M504.2,114.3L511.2,126.3L497.2,126.3Z"/><path d="M506.8,112.4L513.8,124.4L499.8,124.4Z"/><path d="M509.3,110.7L516.3,122.7L502.3,122.7Z"/><path d="M511.9,109.0L518.9,121.0L504.9,121.0Z"/><path d="M514.4,107.5L521.4,119.5L507.4,119.5Z"/><path d="M517.0,105.9L524.0,117.9L510.0,117.9Z"/><path d="M519.6,104.5L526.6,116.5L512.6,116.5Z"/><path d="M522.1,103.1L529.1,115.1L515.1,115.1Z"/><path d="M524.7,101.7L531.7,113.7L517.7,113.7Z"/><path d="M527.2,100.4L534.2,112.4L520.2,112.4Z"/><path d="M529.8,99.2L536.8,111.2L522.8,111.2Z"/><path d="M532.4,97.9L539.4,109.9L525.4,109.9Z"/><path d="M534.9,96.8L541.9,108.8L527.9,108.8Z"/><path d="M537.5,95.6L544.5,107.6L530.5,107.6Z"/><path d="M540.0,94.5L547.0,106.5L533.0,106.5Z"/><path d="M542.6,93.5L549.6,105.5L535.6,105.5Z"/><path d="M545.2,92.4L552.2,104.4L538.2,104.4Z"/><path d="M547.7,91.4L554.7,103.4L540.7,103.4Z"/><path d="M550.3,90.3L557.3,102.3L543.3,102.3Z"/><path d="M552.9,89.3L559.9,101.3L545.9,101.3Z"/><path d="M555.4,88.3L562.4,100.3L548.4,100.3Z"/><path d="M558.0,87.3L565.0,99.3L551.0,99.3Z"/><path d="M560.5,86.2L567.5,98.2L553.5,98.2Z"/><path d="M563.1,85.2L570.1,97.2L556.1,97.2Z"/><path d="M565.7,84.2L572.7,96.2L558.7,96.2Z"/><path d="M568.2,83.1L575.2,95.1L561.2,95.1Z"/><path d="M570.8,82.1L577.8,94.1L563.8,94.1Z"/><path d="M573.3,81.1L580.3,93.1L566.3,93.1Z"/><path d="M575.9,80.1L582.9,92.1L568.9,92.1Z"/><path d="M578.5,79.1L585.5,91.1L571.5,91.1Z"/><path d="M581.0,78.2L588.0,90.2L574.0,90.2Z"/><path d="M583.6,77.3L590.6,89.3L576.6,89.3Z"/><path d="M586.1,76.4L593.1,88.4L579.1,88.4Z"/><path d="M588.7,75.5L595.7,87.5L581.7,87.5Z"/><path d="M591.3,74.7L598.3,86.7L584.3,86.7Z"/><path d="M593.8,73.9L600.8,85.9L586.8,85.9Z"/><path d="M596.4,73.2L603.4,85.2L589.4,85.2Z"/><path d="M599.0,72.4L606.0,84.4L592.0,84.4Z"/><path d="M601.5,71.7L608.5,83.7L594.5,83.7Z"/><path d="M604.1,71.0L611.1,83.0L597.1,83.0Z"/><path d="M606.6,70.3L613.6,82.3L599.6,82.3Z"/><path d="M609.2,69.7L616.2,81.7L602.2,81.7Z"/><path d="M611.8,69.0L618.8,81.0L604.8,81.0Z"/><path d="M614.3,68.4L621.3,80.4L607.3,80.4Z"/><path d="M616.9,67.8L623.9,79.8L609.9,79.8Z"/><path d="M619.4,67.2L626.4,79.2L612.4,79.2Z"/><path d="M622.0,66.6L629.0,78.6L615.0,78.6Z"/><path d="M624.6,66.0L631.6,78.0L617.6,78.0Z"/><path d="M627.1,65.4L634.1,77.4L620.1,77.4Z"/><path d="M629.7,64.9L636.7,76.9L622.7,76.9Z"/><path d="M632.2,64.4L639.2,76.4L625.2,76.4Z"/><path d="M634.8,63.9L641.8,75.9L627.8,75.9Z"/><path d="M637.4,63.4L644.4,75.4L630.4,75.4Z"/><path d="M639.9,62.9L646.9,74.9L632.9,74.9Z"/><path d="M642.5,62.4L649.5,74.4L635.5,74.4Z"/><path d="M645.1,62.0L652.1,74.0L638.1,74.0Z"/><path d="M647.6,61.6L654.6,73.6L640.6,73.6Z"/><path d="M650.2,61.2L657.2,73.2L643.2,73.2Z"/><path d="M652.7,60.9L659.7,72.9L645.7,72.9Z"/><path d="M655.3,60.5L662.3,72.5L648.3,72.5Z"/><path d="M657.9,60.2L664.9,72.2L650.9,72.2Z"/><path d="M660.4,60.0L667.4,72.0L653.4,72.0Z"/><path d="M663.0,59.7L670.0,71.7L656.0,71.7Z"/><path d="M665.5,59.6L672.5,71.6L658.5,71.6Z"/><path d="M668.1,59.4L675.1,71.4L661.1,71.4Z"/></g><g fill="#06aa62" stroke="none"><polyline points="155.9,337.8 158.5,359.7 161.0,367.5 163.6,373.0 166.1,377.0 168.7,378.8 171.3,378.0 173.8,374.5 176.4,369.0 178.9,362.8 181.5,355.9 184.1,348.2 186.6,341.0 189.2,333.8 191.8,326.7 194.3,319.7 196.9,312.7 199.4,305.8 202.0,299.0 204.6,292.4 207.1,286.0 209.7,280.0 212.2,274.2 214.8,268.9 217.4,263.8 219.9,259.0 222.5,254.5 225.0,250.2 227.6,246.2 230.2,242.6 232.7,239.3 235.3,236.1 237.9,232.9 240.4,229.5 243.0,226.1 245.5,222.8 248.1,219.6 250.7,216.6 253.2,213.8 255.8,211.3 258.3,209.0 260.9,206.8 263.5,204.6 266.0,202.4 268.6,200.3 271.1,198.1 273.7,196.0 276.3,193.9 278.8,191.9 281.4,189.9 283.9,188.0 286.5,186.1 289.1,184.3 291.6,182.5 294.2,180.8 296.8,179.1 299.3,177.4 301.9,175.8 304.4,174.2 307.0,172.6 309.6,171.0 312.1,169.4 314.7,167.9 317.2,166.3 319.8,164.8 322.4,163.3 324.9,161.8 327.5,160.3 330.0,158.8 332.6,157.3 335.2,155.8 337.7,154.3 340.3,152.9 342.9,151.4 345.4,150.0 348.0,148.6 350.5,147.3 353.1,145.9 355.7,144.6 358.2,143.3 360.8,142.0 363.3,140.8 365.9,139.6 368.5,138.4 371.0,137.2 373.6,136.1 376.1,135.0 378.7,133.9 381.3,132.9 383.8,131.8 386.4,130.8 389.0,129.7 391.5,128.7 394.1,127.7 396.6,126.7 399.2,125.7 401.8,124.7 404.3,123.7 406.9,122.7 409.4,121.7 412.0,120.8 414.6,119.9 417.1,119.0 419.7,118.2 422.2,117.3 424.8,116.5 427.4,115.8 429.9,115.0 432.5,114.3 435.0,113.5 437.6,112.8 440.2,112.2 442.7,111.5 445.3,110.8 447.9,110.1 450.4,109.5 453.0,108.8 455.5,108.2 458.1,107.6 460.7,106.9 463.2,106.3 465.8,105.7 468.3,105.0 470.9,104.4 473.5,103.7 476.0,103.1 478.6,102.4 481.1,101.7 483.7,101.1 486.3,100.4 488.8,99.8 491.4,99.2 494.0,98.5 496.5,97.9 499.1,97.4 501.6,96.8 504.2,96.2 506.8,95.7 509.3,95.2 511.9,94.7 514.4,94.2 517.0,93.7 519.6,93.2 522.1,92.7 524.7,92.2 527.2,91.7 529.8,91.2 532.4,90.8 534.9,90.3 537.5,89.8 540.0,89.4 542.6,88.9 545.2,88.4 547.7,88.0 550.3,87.5 552.9,87.1 555.4,86.6 558.0,86.2 560.5,85.7 563.1,85.3 565.7,84.8 568.2,84.3 570.8,83.9 573.3,83.4 575.9,82.9 578.5,82.4 581.0,81.9 583.6,81.4 586.1,80.9 588.7,80.4 591.3,79.9 593.8,79.4 596.4,78.9 599.0,78.4 601.5,77.9 604.1,77.5 606.6,77.1 609.2,76.7 611.8,76.4 614.3,76.0 616.9,75.7 619.4,75.4 622.0,75.2 624.6,74.9 627.1,74.7 629.7,74.4 632.2,74.2 634.8,74.0 637.4,73.8 639.9,73.7 642.5,73.5 645.1,73.3 647.6,73.1 650.2,73.0 652.7,72.8 655.3,72.7 657.9,72.5 660.4,72.4 663.0,72.2 665.5,72.1 668.1,72.0" fill="none" stroke="#06aa62" stroke-width="6" stroke-linejoin="round" stroke-linecap="round"/><path d="M155.9,344.4L162.9,332.4L148.9,332.4Z"/><path d="M158.5,366.3L165.5,354.3L151.5,354.3Z"/><path d="M161.0,374.1L168.0,362.1L154.0,362.1Z"/><path d="M163.6,379.6L170.6,367.6L156.6,367.6Z"/><path d="M166.1,383.6L173.1,371.6L159.1,371.6Z"/><path d="M168.7,385.4L175.7,373.4L161.7,373.4Z"/><path d="M171.3,384.6L178.3,372.6L164.3,372.6Z"/><path d="M173.8,381.1L180.8,369.1L166.8,369.1Z"/><path d="M176.4,375.6L183.4,363.6L169.4,363.6Z"/><path d="M178.9,369.4L185.9,357.4L171.9,357.4Z"/><path d="M181.5,362.5L188.5,350.5L174.5,350.5Z"/><path d="M184.1,354.8L191.1,342.8L177.1,342.8Z"/><path d="M186.6,347.6L193.6,335.6L179.6,335.6Z"/><path d="M189.2,340.4L196.2,328.4L182.2,328.4Z"/><path d="M191.8,333.3L198.8,321.3L184.8,321.3Z"/><path d="M194.3,326.3L201.3,314.3L187.3,314.3Z"/><path d="M196.9,319.3L203.9,307.3L189.9,307.3Z"/><path d="M199.4,312.4L206.4,300.4L192.4,300.4Z"/><path d="M202.0,305.6L209.0,293.6L195.0,293.6Z"/><path d="M204.6,299.0L211.6,287.0L197.6,287.0Z"/><path d="M207.1,292.6L214.1,280.6L200.1,280.6Z"/><path d="M209.7,286.6L216.7,274.6L202.7,274.6Z"/><path d="M212.2,280.8L219.2,268.8L205.2,268.8Z"/><path d="M214.8,275.5L221.8,263.5L207.8,263.5Z"/><path d="M217.4,270.4L224.4,258.4L210.4,258.4Z"/><path d="M219.9,265.6L226.9,253.6L212.9,253.6Z"/><path d="M222.5,261.1L229.5,249.1L215.5,249.1Z"/><path d="M225.0,256.8L232.0,244.8L218.0,244.8Z"/><path d="M227.6,252.8L234.6,240.8L220.6,240.8Z"/><path d="M230.2,249.2L237.2,237.2L223.2,237.2Z"/><path d="M232.7,245.9L239.7,233.9L225.7,233.9Z"/><path d="M235.3,242.7L242.3,230.7L228.3,230.7Z"/><path d="M237.9,239.5L244.9,227.5L230.9,227.5Z"/><path d="M240.4,236.1L247.4,224.1L233.4,224.1Z"/><path d="M243.0,232.7L250.0,220.7L236.0,220.7Z"/><path d="M245.5,229.4L252.5,217.4L238.5,217.4Z"/><path d="M248.1,226.2L255.1,214.2L241.1,214.2Z"/><path d="M250.7,223.2L257.7,211.2L243.7,211.2Z"/><path d="M253.2,220.4L260.2,208.4L246.2,208.4Z"/><path d="M255.8,217.9L262.8,205.9L248.8,205.9Z"/><path d="M258.3,215.6L265.3,203.6L251.3,203.6Z"/><path d="M260.9,213.4L267.9,201.4L253.9,201.4Z"/><path d="M263.5,211.2L270.5,199.2L256.5,199.2Z"/><path d="M266.0,209.0L273.0,197.0L259.0,197.0Z"/><path d="M268.6,206.9L275.6,194.9L261.6,194.9Z"/><path d="M271.1,204.7L278.1,192.7L264.1,192.7Z"/><path d="M273.7,202.6L280.7,190.6L266.7,190.6Z"/><path d="M276.3,200.5L283.3,188.5L269.3,188.5Z"/><path d="M278.8,198.5L285.8,186.5L271.8,186.5Z"/><path d="M281.4,196.5L288.4,184.5L274.4,184.5Z"/><path d="M283.9,194.6L290.9,182.6L276.9,182.6Z"/><path d="M286.5,192.7L293.5,180.7L279.5,180.7Z"/><path d="M289.1,190.9L296.1,178.9L282.1,178.9Z"/><path d="M291.6,189.1L298.6,177.1L284.6,177.1Z"/><path d="M294.2,187.4L301.2,175.4L287.2,175.4Z"/><path d="M296.8,185.7L303.8,173.7L289.8,173.7Z"/><path d="M299.3,184.0L306.3,172.0L292.3,172.0Z"/><path d="M301.9,182.4L308.9,170.4L294.9,170.4Z"/><path d="M304.4,180.8L311.4,168.8L297.4,168.8Z"/><path d="M307.0,179.2L314.0,167.2L300.0,167.2Z"/><path d="M309.6,177.6L316.6,165.6L302.6,165.6Z"/><path d="M312.1,176.0L319.1,164.0L305.1,164.0Z"/><path d="M314.7,174.5L321.7,162.5L307.7,162.5Z"/><path d="M317.2,172.9L324.2,160.9L310.2,160.9Z"/><path d="M319.8,171.4L326.8,159.4L312.8,159.4Z"/><path d="M322.4,169.9L329.4,157.9L315.4,157.9Z"/><path d="M324.9,168.4L331.9,156.4L317.9,156.4Z"/><path d="M327.5,166.9L334.5,154.9L320.5,154.9Z"/><path d="M330.0,165.4L337.0,153.4L323.0,153.4Z"/><path d="M332.6,163.9L339.6,151.9L325.6,151.9Z"/><path d="M335.2,162.4L342.2,150.4L328.2,150.4Z"/><path d="M337.7,160.9L344.7,148.9L330.7,148.9Z"/><path d="M340.3,159.5L347.3,147.5L333.3,147.5Z"/><path d="M342.9,158.0L349.9,146.0L335.9,146.0Z"/><path d="M345.4,156.6L352.4,144.6L338.4,144.6Z"/><path d="M348.0,155.2L355.0,143.2L341.0,143.2Z"/><path d="M350.5,153.9L357.5,141.9L343.5,141.9Z"/><path d="M353.1,152.5L360.1,140.5L346.1,140.5Z"/><path d="M355.7,151.2L362.7,139.2L348.7,139.2Z"/><path d="M358.2,149.9L365.2,137.9L351.2,137.9Z"/><path d="M360.8,148.6L367.8,136.6L353.8,136.6Z"/><path d="M363.3,147.4L370.3,135.4L356.3,135.4Z"/><path d="M365.9,146.2L372.9,134.2L358.9,134.2Z"/><path d="M368.5,145.0L375.5,133.0L361.5,133.0Z"/><path d="M371.0,143.8L378.0,131.8L364.0,131.8Z"/><path d="M373.6,142.7L380.6,130.7L366.6,130.7Z"/><path d="M376.1,141.6L383.1,129.6L369.1,129.6Z"/><path d="M378.7,140.5L385.7,128.5L371.7,128.5Z"/><path d="M381.3,139.5L388.3,127.5L374.3,127.5Z"/><path d="M383.8,138.4L390.8,126.4L376.8,126.4Z"/><path d="M386.4,137.4L393.4,125.4L379.4,125.4Z"/><path d="M389.0,136.3L396.0,124.3L382.0,124.3Z"/><path d="M391.5,135.3L398.5,123.3L384.5,123.3Z"/><path d="M394.1,134.3L401.1,122.3L387.1,122.3Z"/><path d="M396.6,133.3L403.6,121.3L389.6,121.3Z"/><path d="M399.2,132.3L406.2,120.3L392.2,120.3Z"/><path d="M401.8,131.3L408.8,119.3L394.8,119.3Z"/><path d="M404.3,130.3L411.3,118.3L397.3,118.3Z"/><path d="M406.9,129.3L413.9,117.3L399.9,117.3Z"/><path d="M409.4,128.3L416.4,116.3L402.4,116.3Z"/><path d="M412.0,127.4L419.0,115.4L405.0,115.4Z"/><path d="M414.6,126.5L421.6,114.5L407.6,114.5Z"/><path d="M417.1,125.6L424.1,113.6L410.1,113.6Z"/><path d="M419.7,124.8L426.7,112.8L412.7,112.8Z"/><path d="M422.2,123.9L429.2,111.9L415.2,111.9Z"/><path d="M424.8,123.1L431.8,111.1L417.8,111.1Z"/><path d="M427.4,122.4L434.4,110.4L420.4,110.4Z"/><path d="M429.9,121.6L436.9,109.6L422.9,109.6Z"/><path d="M432.5,120.9L439.5,108.9L425.5,108.9Z"/><path d="M435.0,120.1L442.0,108.1L428.0,108.1Z"/><path d="M437.6,119.4L444.6,107.4L430.6,107.4Z"/><path d="M440.2,118.8L447.2,106.8L433.2,106.8Z"/><path d="M442.7,118.1L449.7,106.1L435.7,106.1Z"/><path d="M445.3,117.4L452.3,105.4L438.3,105.4Z"/><path d="M447.9,116.7L454.9,104.7L440.9,104.7Z"/><path d="M450.4,116.1L457.4,104.1L443.4,104.1Z"/><path d="M453.0,115.4L460.0,103.4L446.0,103.4Z"/><path d="M455.5,114.8L462.5,102.8L448.5,102.8Z"/><path d="M458.1,114.2L465.1,102.2L451.1,102.2Z"/><path d="M460.7,113.5L467.7,101.5L453.7,101.5Z"/><path d="M463.2,112.9L470.2,100.9L456.2,100.9Z"/><path d="M465.8,112.3L472.8,100.3L458.8,100.3Z"/><path d="M468.3,111.6L475.3,99.6L461.3,99.6Z"/><path d="M470.9,111.0L477.9,99.0L463.9,99.0Z"/><path d="M473.5,110.3L480.5,98.3L466.5,98.3Z"/><path d="M476.0,109.7L483.0,97.7L469.0,97.7Z"/><path d="M478.6,109.0L485.6,97.0L471.6,97.0Z"/><path d="M481.1,108.3L488.1,96.3L474.1,96.3Z"/><path d="M483.7,107.7L490.7,95.7L476.7,95.7Z"/><path d="M486.3,107.0L493.3,95.0L479.3,95.0Z"/><path d="M488.8,106.4L495.8,94.4L481.8,94.4Z"/><path d="M491.4,105.8L498.4,93.8L484.4,93.8Z"/><path d="M494.0,105.1L501.0,93.1L487.0,93.1Z"/><path d="M496.5,104.5L503.5,92.5L489.5,92.5Z"/><path d="M499.1,104.0L506.1,92.0L492.1,92.0Z"/><path d="M501.6,103.4L508.6,91.4L494.6,91.4Z"/><path d="M504.2,102.8L511.2,90.8L497.2,90.8Z"/><path d="M506.8,102.3L513.8,90.3L499.8,90.3Z"/><path d="M509.3,101.8L516.3,89.8L502.3,89.8Z"/><path d="M511.9,101.3L518.9,89.3L504.9,89.3Z"/><path d="M514.4,100.8L521.4,88.8L507.4,88.8Z"/><path d="M517.0,100.3L524.0,88.3L510.0,88.3Z"/><path d="M519.6,99.8L526.6,87.8L512.6,87.8Z"/><path d="M522.1,99.3L529.1,87.3L515.1,87.3Z"/><path d="M524.7,98.8L531.7,86.8L517.7,86.8Z"/><path d="M527.2,98.3L534.2,86.3L520.2,86.3Z"/><path d="M529.8,97.8L536.8,85.8L522.8,85.8Z"/><path d="M532.4,97.4L539.4,85.4L525.4,85.4Z"/><path d="M534.9,96.9L541.9,84.9L527.9,84.9Z"/><path d="M537.5,96.4L544.5,84.4L530.5,84.4Z"/><path d="M540.0,96.0L547.0,84.0L533.0,84.0Z"/><path d="M542.6,95.5L549.6,83.5L535.6,83.5Z"/><path d="M545.2,95.0L552.2,83.0L538.2,83.0Z"/><path d="M547.7,94.6L554.7,82.6L540.7,82.6Z"/><path d="M550.3,94.1L557.3,82.1L543.3,82.1Z"/><path d="M552.9,93.7L559.9,81.7L545.9,81.7Z"/><path d="M555.4,93.2L562.4,81.2L548.4,81.2Z"/><path d="M558.0,92.8L565.0,80.8L551.0,80.8Z"/><path d="M560.5,92.3L567.5,80.3L553.5,80.3Z"/><path d="M563.1,91.9L570.1,79.9L556.1,79.9Z"/><path d="M565.7,91.4L572.7,79.4L558.7,79.4Z"/><path d="M568.2,90.9L575.2,78.9L561.2,78.9Z"/><path d="M570.8,90.5L577.8,78.5L563.8,78.5Z"/><path d="M573.3,90.0L580.3,78.0L566.3,78.0Z"/><path d="M575.9,89.5L582.9,77.5L568.9,77.5Z"/><path d="M578.5,89.0L585.5,77.0L571.5,77.0Z"/><path d="M581.0,88.5L588.0,76.5L574.0,76.5Z"/><path d="M583.6,88.0L590.6,76.0L576.6,76.0Z"/><path d="M586.1,87.5L593.1,75.5L579.1,75.5Z"/><path d="M588.7,87.0L595.7,75.0L581.7,75.0Z"/><path d="M591.3,86.5L598.3,74.5L584.3,74.5Z"/><path d="M593.8,86.0L600.8,74.0L586.8,74.0Z"/><path d="M596.4,85.5L603.4,73.5L589.4,73.5Z"/><path d="M599.0,85.0L606.0,73.0L592.0,73.0Z"/><path d="M601.5,84.5L608.5,72.5L594.5,72.5Z"/><path d="M604.1,84.1L611.1,72.1L597.1,72.1Z"/><path d="M606.6,83.7L613.6,71.7L599.6,71.7Z"/><path d="M609.2,83.3L616.2,71.3L602.2,71.3Z"/><path d="M611.8,83.0L618.8,71.0L604.8,71.0Z"/><path d="M614.3,82.6L621.3,70.6L607.3,70.6Z"/><path d="M616.9,82.3L623.9,70.3L609.9,70.3Z"/><path d="M619.4,82.0L626.4,70.0L612.4,70.0Z"/><path d="M622.0,81.8L629.0,69.8L615.0,69.8Z"/><path d="M624.6,81.5L631.6,69.5L617.6,69.5Z"/><path d="M627.1,81.3L634.1,69.3L620.1,69.3Z"/><path d="M629.7,81.0L636.7,69.0L622.7,69.0Z"/><path d="M632.2,80.8L639.2,68.8L625.2,68.8Z"/><path d="M634.8,80.6L641.8,68.6L627.8,68.6Z"/><path d="M637.4,80.4L644.4,68.4L630.4,68.4Z"/><path d="M639.9,80.3L646.9,68.3L632.9,68.3Z"/><path d="M642.5,80.1L649.5,68.1L635.5,68.1Z"/><path d="M645.1,79.9L652.1,67.9L638.1,67.9Z"/><path d="M647.6,79.7L654.6,67.7L640.6,67.7Z"/><path d="M650.2,79.6L657.2,67.6L643.2,67.6Z"/><path d="M652.7,79.4L659.7,67.4L645.7,67.4Z"/><path d="M655.3,79.3L662.3,67.3L648.3,67.3Z"/><path d="M657.9,79.1L664.9,67.1L650.9,67.1Z"/><path d="M660.4,79.0L667.4,67.0L653.4,67.0Z"/><path d="M663.0,78.8L670.0,66.8L656.0,66.8Z"/><path d="M665.5,78.7L672.5,66.7L658.5,66.7Z"/><path d="M668.1,78.6L675.1,66.6L661.1,66.6Z"/></g>
<rect x="91.4" y="18.2" width="641.1" height="516.0999999999999" fill="none" stroke="#000" stroke-width="2.6"/><path d="M91.4,18.20H102.2M91.4,75.54H102.2M91.4,132.89H102.2M91.4,190.23H102.2M91.4,247.58H102.2M91.4,304.92H102.2M91.4,362.27H102.2M91.4,419.61H102.2M91.4,476.96H102.2M91.4,58.28H96.4M91.4,48.18H96.4M91.4,41.02H96.4M91.4,35.46H96.4M91.4,30.92H96.4M91.4,27.08H96.4M91.4,23.76H96.4M91.4,20.82H96.4M91.4,115.63H96.4M91.4,105.53H96.4M91.4,98.36H96.4M91.4,92.81H96.4M91.4,88.27H96.4M91.4,84.43H96.4M91.4,81.10H96.4M91.4,78.17H96.4M91.4,172.97H96.4M91.4,162.87H96.4M91.4,155.71H96.4M91.4,150.15H96.4M91.4,145.61H96.4M91.4,141.77H96.4M91.4,138.45H96.4M91.4,135.51H96.4M91.4,230.32H96.4M91.4,220.22H96.4M91.4,213.05H96.4M91.4,207.50H96.4M91.4,202.96H96.4M91.4,199.12H96.4M91.4,195.79H96.4M91.4,192.86H96.4M91.4,287.66H96.4M91.4,277.56H96.4M91.4,270.40H96.4M91.4,264.84H96.4M91.4,260.30H96.4M91.4,256.46H96.4M91.4,253.14H96.4M91.4,250.20H96.4M91.4,345.00H96.4M91.4,334.91H96.4M91.4,327.74H96.4M91.4,322.18H96.4M91.4,317.64H96.4M91.4,313.80H96.4M91.4,310.48H96.4M91.4,307.55H96.4M91.4,402.35H96.4M91.4,392.25H96.4M91.4,385.09H96.4M91.4,379.53H96.4M91.4,374.99H96.4M91.4,371.15H96.4M91.4,367.82H96.4M91.4,364.89H96.4M91.4,459.69H96.4M91.4,449.60H96.4M91.4,442.43H96.4M91.4,436.87H96.4M91.4,432.33H96.4M91.4,428.49H96.4M91.4,425.17H96.4M91.4,422.24H96.4M91.4,517.04H96.4M91.4,506.94H96.4M91.4,499.78H96.4M91.4,494.22H96.4M91.4,489.68H96.4M91.4,485.84H96.4M91.4,482.51H96.4M91.4,479.58H96.4M155.90,534.3V524.3M283.95,534.3V524.3M412.00,534.3V524.3M540.05,534.3V524.3M668.10,534.3V524.3M219.93,534.3V529.3M347.98,534.3V529.3M476.02,534.3V529.3M604.08,534.3V529.3" stroke="#000" stroke-width="1.5" fill="none"/>
<text x="80.5" y="25.7" text-anchor="end" font-weight="bold" font-size="23">10<tspan dy="-9.8" font-size="15">-3</tspan></text><text x="80.5" y="83.0" text-anchor="end" font-weight="bold" font-size="23">10<tspan dy="-9.8" font-size="15">-4</tspan></text><text x="80.5" y="140.4" text-anchor="end" font-weight="bold" font-size="23">10<tspan dy="-9.8" font-size="15">-5</tspan></text><text x="80.5" y="197.7" text-anchor="end" font-weight="bold" font-size="23">10<tspan dy="-9.8" font-size="15">-6</tspan></text><text x="80.5" y="255.1" text-anchor="end" font-weight="bold" font-size="23">10<tspan dy="-9.8" font-size="15">-7</tspan></text><text x="80.5" y="312.4" text-anchor="end" font-weight="bold" font-size="23">10<tspan dy="-9.8" font-size="15">-8</tspan></text><text x="80.5" y="369.8" text-anchor="end" font-weight="bold" font-size="23">10<tspan dy="-9.8" font-size="15">-9</tspan></text><text x="80.5" y="427.1" text-anchor="end" font-weight="bold" font-size="23">10<tspan dy="-9.8" font-size="15">-10</tspan></text><text x="80.5" y="484.5" text-anchor="end" font-weight="bold" font-size="23">10<tspan dy="-9.8" font-size="15">-11</tspan></text><text x="80.5" y="541.8" text-anchor="end" font-weight="bold" font-size="23">10<tspan dy="-9.8" font-size="15">-12</tspan></text><text x="155.9" y="561.2" text-anchor="middle" font-weight="bold" font-size="22.4">-20</text><text x="283.9" y="561.2" text-anchor="middle" font-weight="bold" font-size="22.4">-10</text><text x="412.0" y="561.2" text-anchor="middle" font-weight="bold" font-size="22.4">0</text><text x="540.0" y="561.2" text-anchor="middle" font-weight="bold" font-size="22.4">10</text><text x="668.1" y="561.2" text-anchor="middle" font-weight="bold" font-size="22.4">20</text>
<text x="118.2" y="59.8" font-size="28.5">V</text><text x="137.6" y="66.6" font-size="18.5">D</text><text x="157.5" y="59.8" font-size="28.5" textLength="93.5" lengthAdjust="spacingAndGlyphs">= 20.1 V</text>
<text x="119" y="104.2" font-size="28.5" textLength="117" lengthAdjust="spacingAndGlyphs">W/L = 500</text><text x="244" y="104.2" font-size="28.5" textLength="134.5" lengthAdjust="spacingAndGlyphs">um/400 um</text>
<text x="368" y="594" font-weight="bold" font-size="28">V<tspan dy="7" font-weight="normal" font-size="19.5">G</tspan></text><text x="412" y="594" font-weight="bold" font-size="28">(V)</text>
<text transform="translate(32,311) rotate(-90)" font-weight="bold" font-size="28">I<tspan dy="7" font-weight="normal" font-size="18">D</tspan><tspan dy="-7"> (A)</tspan></text>
<g stroke-width="6" stroke-linecap="round">
<line x1="571.6" y1="333.9" x2="644" y2="333.9" stroke="#747474"/>
<line x1="571.6" y1="373.9" x2="644" y2="373.9" stroke="#fd3a3a"/>
<line x1="571.6" y1="413.6" x2="644" y2="413.6" stroke="#0a6ae0"/>
<line x1="571.6" y1="453.3" x2="644" y2="453.3" stroke="#06aa62"/>
</g>
<g fill="#747474"><rect x="602.8" y="329.1" width="10.4" height="10.2"/></g>
<g fill="#fd3a3a"><circle cx="607.9" cy="373.8" r="5.50"/></g>
<g fill="#0a6ae0"><path d="M608.0,405.9L615.0,417.9L601.0,417.9Z"/></g>
<g fill="#06aa62"><path d="M608.0,460.6L615.0,448.6L601.0,448.6Z"/></g>
<g font-size="27.5">
<text x="650.5" y="344.8">0%</text>
<text x="650.5" y="384.6">5%</text>
<text x="650.5" y="424.3">10%</text>
<text x="650.5" y="464">20%</text>
</g>
</svg></body></html>
